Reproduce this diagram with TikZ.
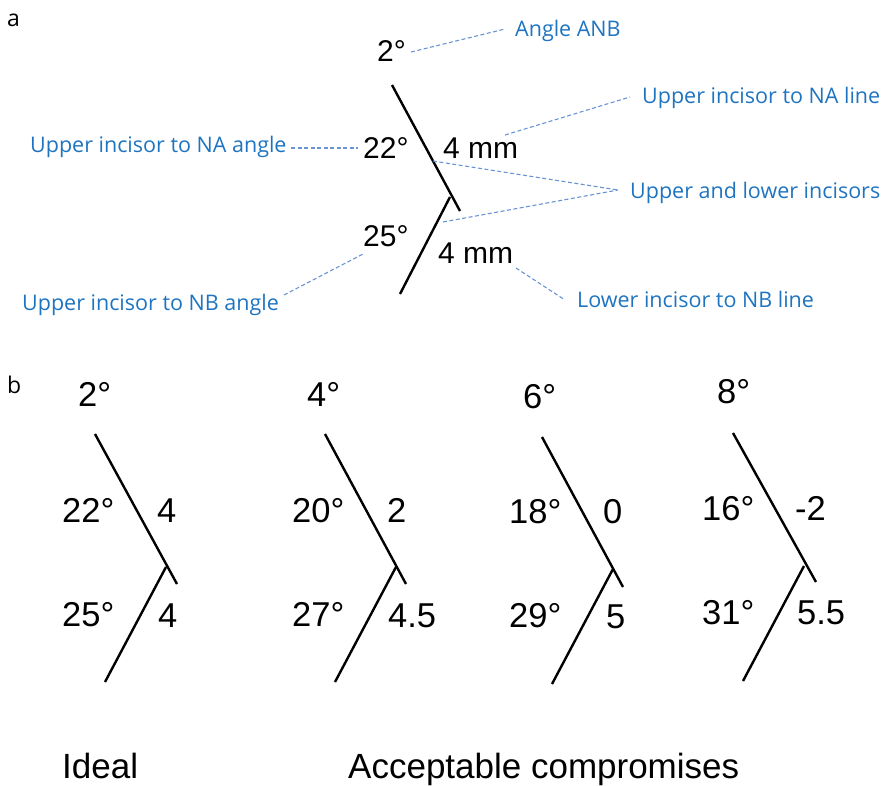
\documentclass[tikz,border=0pt]{standalone}
\usepackage{fontspec}
\setmainfont{Liberation Sans}
\newfontfamily\notefont{Open Sans}
\usetikzlibrary{calc}
\definecolor{notetext}{RGB}{30,116,192}
\definecolor{notedash}{RGB}{105,148,212}
\tikzset{
  tooth/.style={line width=2.4pt, black, line cap=butt},
  leader/.style={notedash, line width=1.1pt, dash pattern=on 4pt off 2.5pt},
  note/.style={anchor=base west, inner sep=0pt, text=notetext, font=\notefont\fontsize{21.5}{24}\selectfont},
  vala/.style={anchor=base west, inner sep=0pt, font=\fontsize{30}{34}\selectfont},
  valb/.style={anchor=base west, inner sep=0pt, font=\fontsize{34.5}{38}\selectfont},
  panel/.style={anchor=base west, inner sep=0pt, font=\notefont\fontsize{23}{25}\selectfont},
  caption/.style={anchor=base west, inner sep=0pt, font=\fontsize{35}{40}\selectfont},
}
\begin{document}
\begin{tikzpicture}[x=1pt,y=-1pt]
\useasboundingbox (0,0) rectangle (884,785);

% ---------- panel a ----------
\node[panel] (pa) at (7,26) {a};

\coordinate (ua1) at (392,85);  \coordinate (ua2) at (460,211);
\coordinate (la1) at (450,197); \coordinate (la2) at (400,294);
\draw[tooth] (ua1) -- (ua2);
\draw[tooth] (la1) -- (la2);

\node[vala] (anb) at (377,61) {2°};
\node[vala] (una) at (363,158) {22°};
\node[vala] (unb) at (363,246) {25°};
\node[vala] (dna) at (443,158) {4 mm};
\node[vala] (dnb) at (438,263) {4 mm};

\node[note] (tanb) at (515,36) {Angle ANB};
\node[note] (tnal) at (642,103) {Upper incisor to NA line};
\node[note] (tinc) at (630,198) {Upper and lower incisors};
\node[note] (tnbl) at (577,307) {Lower incisor to NB line};
\node[note] (tnaa) at (30,152) {Upper incisor to NA angle};
\node[note] (tnba) at (22,310) {Upper incisor to NB angle};

% leader end points
\coordinate (e1a) at (411,52);  \coordinate (e1b) at (505,29);
\coordinate (e2a) at (505,135); \coordinate (e2b) at (630,97);
\coordinate (e3a) at (433,161); \coordinate (e3b) at (618,190);
\coordinate (e4a) at (443,222);
\coordinate (e5a) at (516,268); \coordinate (e5b) at (565,300);
\coordinate (e6a) at (291,148); \coordinate (e6b) at (358,148);
\coordinate (e7a) at (284,295); \coordinate (e7b) at (363,254);
\draw[leader] (e1a) -- (e1b);
\draw[leader] (e2a) -- (e2b);
\draw[leader] (e3a) -- (e3b);
\draw[leader] (e4a) -- (e3b);
\draw[leader] (e5a) -- (e5b);
\draw[leader] (e6a) -- (e6b);
\draw[leader] (e7a) -- (e7b);

% ---------- panel b ----------
\node[panel] (pb) at (7,393) {b};

% ideal
\draw[tooth] (95,434) coordinate (b1u1) -- (177,584) coordinate (b1u2);
\draw[tooth] (166,567) coordinate (b1l1) -- (105,682) coordinate (b1l2);
\node[valb] (b1anb) at (78,406) {2°};
\node[valb] (b1una) at (62,522) {22°};
\node[valb] (b1dna) at (157,522) {4};
\node[valb] (b1unb) at (62,626) {25°};
\node[valb] (b1dnb) at (158,627) {4};

% compromise 1
\draw[tooth] (325,434) coordinate (b2u1) -- (406,584) coordinate (b2u2);
\draw[tooth] (396,567) coordinate (b2l1) -- (335,682) coordinate (b2l2);
\node[valb] (b2anb) at (307,406) {4°};
\node[valb] (b2una) at (292,522) {20°};
\node[valb] (b2dna) at (387,522) {2};
\node[valb] (b2unb) at (292,626) {27°};
\node[valb] (b2dnb) at (388,627) {4.5};

% compromise 2
\draw[tooth] (542,437) coordinate (b3u1) -- (623,587) coordinate (b3u2);
\draw[tooth] (613,569) coordinate (b3l1) -- (552,684) coordinate (b3l2);
\node[valb] (b3anb) at (523,408) {6°};
\node[valb] (b3una) at (509,523) {18°};
\node[valb] (b3dna) at (603,523) {0};
\node[valb] (b3unb) at (509,627) {29°};
\node[valb] (b3dnb) at (606,628) {5};

% compromise 3
\draw[tooth] (733,433) coordinate (b4u1) -- (816,582) coordinate (b4u2);
\draw[tooth] (804,566) coordinate (b4l1) -- (743,681) coordinate (b4l2);
\node[valb] (b4anb) at (717,403) {8°};
\node[valb] (b4una) at (702,520) {16°};
\node[valb] (b4dna) at (795,520) {-2};
\node[valb] (b4unb) at (702,624) {31°};
\node[valb] (b4dnb) at (797,624) {5.5};

\node[caption] (cid) at (62,778) {Ideal};
\node[caption] (cac) at (348,778) {Acceptable compromises};
\end{tikzpicture}
\end{document}
